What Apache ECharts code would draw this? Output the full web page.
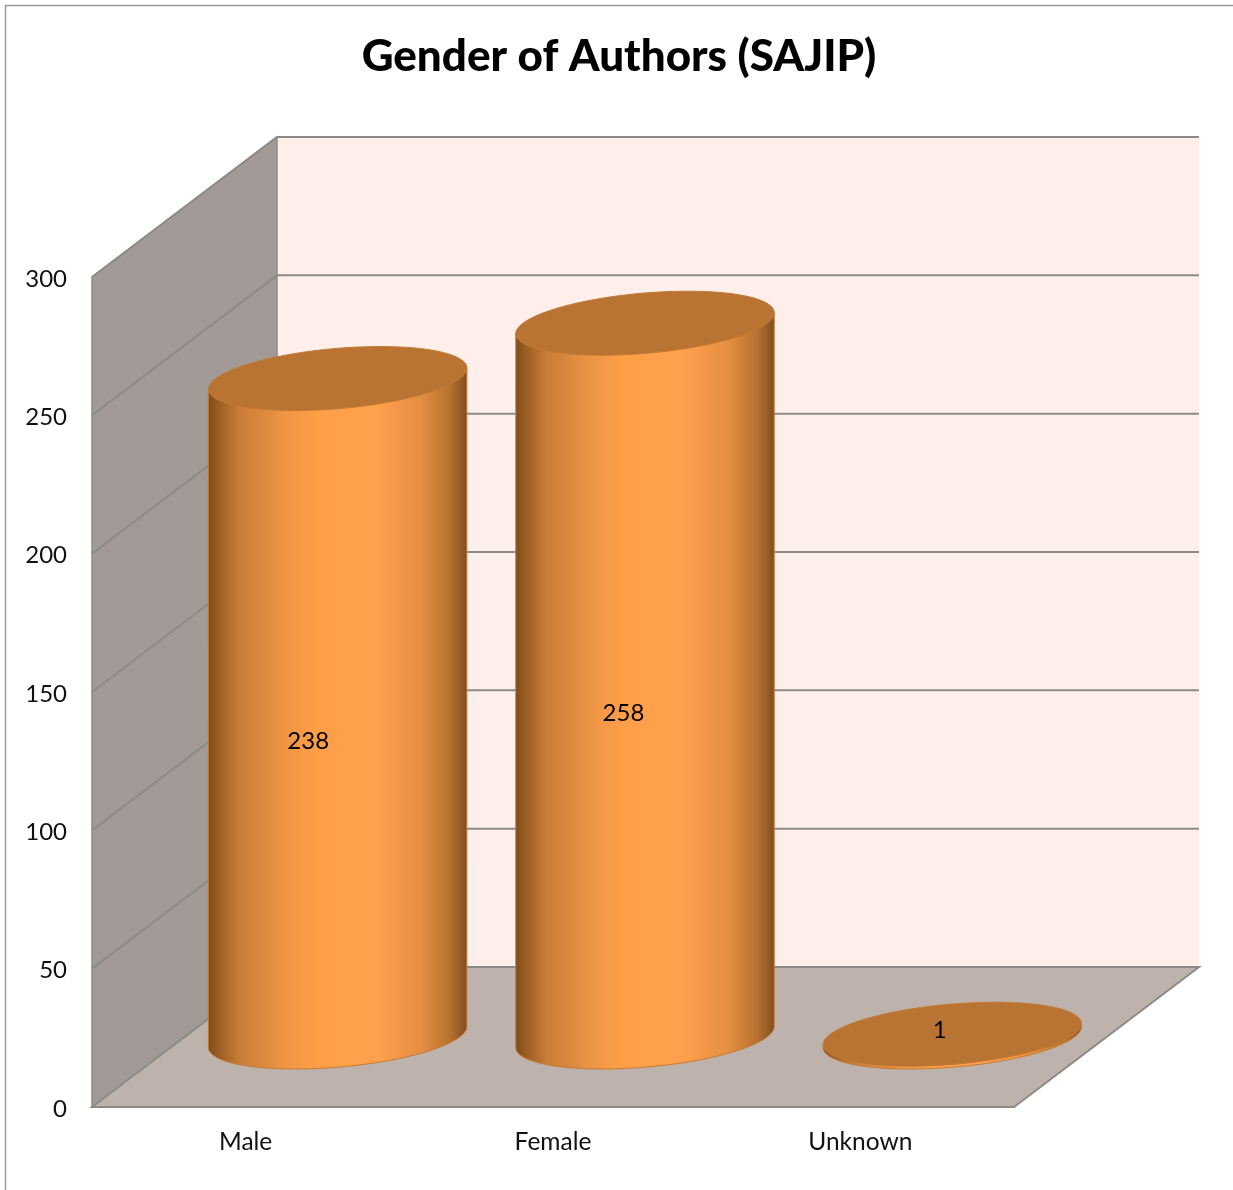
<!DOCTYPE html>
<html><head><meta charset="utf-8">
<style>html,body{margin:0;padding:0;background:#fff}#c{width:1233px;height:1190px}</style>
<script src="https://cdn.jsdelivr.net/npm/echarts@6/dist/echarts.min.js"></script>
</head><body><div id="c"></div>
<script>
const titleText = 'Gender of Authors (SAJIP)';
const categories = ['Male', 'Female', 'Unknown'];
const values = [238, 258, 1];
const yTicks = [0, 50, 100, 150, 200, 250, 300];

const FONT = 'Lato';
const DEPTH_X = 185, DEPTH_Y = 140;
const labelShift = [[-30, 33], [-22, 33], [-13, -5]];
const TOP_COLOR = '#B97333', GRID = '#8C8C86';

function ellipsePts(cx, cy, from, to, n) {
  const A = 122, B = 42.6, C = 32, pts = [];
  for (let i = 0; i <= n; i++) {
    const t = from + (to - from) * i / n;
    pts.push([cx + Math.cos(t) * A + Math.sin(t) * B, cy - Math.sin(t) * C]);
  }
  return pts;
}
const T0 = Math.atan2(42.6, 122);

const chart = echarts.init(document.getElementById('c'), null, {renderer: 'canvas'});
chart.setOption({
  animation: false,
  backgroundColor: '#fff',
  title: {text: titleText, left: 614, top: 30, textAlign: 'center',
    textStyle: {fontFamily: FONT, fontSize: 44, fontWeight: 900, color: '#000'}},
  grid: {left: 92, right: 219, top: 277, bottom: 83},
  xAxis: {type: 'category', data: categories,
    axisLine: {show: false}, axisTick: {show: false},
    axisLabel: {fontFamily: FONT, fontSize: 24.5, color: '#111', margin: 23}},
  yAxis: {type: 'value', min: 0, max: 300, interval: 50,
    axisLine: {show: false}, axisTick: {show: false}, splitLine: {show: false},
    axisLabel: {margin: 25, formatter: '{n|{value}}',
      rich: {n: {fontFamily: FONT, fontSize: 24, color: '#111', padding: [4, 0, 0, 0]}}}},
  graphic: [
    {type: 'polyline', silent: true, z: 0,
     shape: {points: [[1233, 5.5], [5.5, 5.5], [5.5, 1190]]},
     style: {stroke: '#9A9A9A', lineWidth: 1.5, fill: null}}
  ],
  series: [
    {type: 'custom', coordinateSystem: 'cartesian2d', z: 1, silent: true, data: [0],
     renderItem(params, api) {
       const g = params.coordSys, x0 = g.x, x1 = g.x + g.width;
       const yB = api.coord([0, 0])[1], yT = api.coord([0, yTicks[yTicks.length - 1]])[1];
       const dx = DEPTH_X, dy = DEPTH_Y;
       return {type: 'group', children: [
         {type: 'rect', shape: {x: x0 + dx, y: yT - dy, width: g.width, height: yB - yT},
          style: {fill: '#FFEFEA'}},
         {type: 'polygon', shape: {points: [[x0, yT], [x0 + dx, yT - dy], [x0 + dx, yB - dy], [x0, yB]]},
          style: {fill: '#A29A96', stroke: GRID, lineWidth: 1.5}},
         {type: 'polygon', shape: {points: [[x0, yB], [x0 + dx, yB - dy], [x1 + dx, yB - dy], [x1, yB]]},
          style: {fill: '#BEB2AD', stroke: GRID, lineWidth: 2}}
       ]};
     }},
    {type: 'custom', coordinateSystem: 'cartesian2d', z: 2, silent: true,
     data: yTicks.map(v => [0, v]),
     encode: {x: -1, y: 1},
     renderItem(params, api) {
       const v = api.value(1);
       if (v === 0) return null;
       const g = params.coordSys, y = api.coord([0, v])[1];
       const pts = [[g.x, y], [g.x + DEPTH_X, y - DEPTH_Y], [g.x + g.width + DEPTH_X, y - DEPTH_Y]];
       return {type: 'polyline', shape: {points: pts}, style: {stroke: GRID, lineWidth: 2, fill: null}};
     }},
    {type: 'custom', coordinateSystem: 'cartesian2d', z: 3, silent: true,
     data: values.map((v, i) => [i, v]),
     encode: {x: 0, y: 1},
     renderItem(params, api) {
       const i = api.value(0), v = api.value(1);
       const base = api.coord([i, 0]), top = api.coord([i, v]);
       const cx = base[0] + DEPTH_X / 2 - 0.5, cyB = base[1] - DEPTH_Y / 2, cyT = top[1] - DEPTH_Y / 2;
       const botArc = ellipsePts(cx, cyB, T0, T0 - Math.PI, 60);
       const sideRight = [cx + 129.2, cyT + (botArc[0][1] - cyB)];
       const sideLeft = [cx - 129.2, cyT + (botArc[60][1] - cyB)];
       const body = [sideRight].concat(botArc, [sideLeft]);
       const topE = ellipsePts(cx, cyT, 0, Math.PI * 2, 120);
       const grad = new echarts.graphic.LinearGradient(0, 0, 1, 0, [
         {offset: 0, color: '#7A4A20'}, {offset: 0.03, color: '#95591F'}, {offset: 0.12, color: '#C97C38'},
         {offset: 0.3, color: '#EE9645'}, {offset: 0.42, color: '#FF9F48'}, {offset: 0.65, color: '#FFA04D'},
         {offset: 0.82, color: '#E48F42'}, {offset: 0.93, color: '#B8722F'}, {offset: 1, color: '#7F4E22'}
       ]);
       return {type: 'group', children: [
         {type: 'polygon', shape: {points: body}, style: {fill: grad, stroke: '#C67A30', lineWidth: 1}},
         {type: 'polygon', shape: {points: topE}, style: {fill: TOP_COLOR, stroke: '#C37A36', lineWidth: 1}}
       ]};
     }},
    {type: 'custom', coordinateSystem: 'cartesian2d', z: 4, silent: true,
     data: values.map((v, i) => [i, v]),
     encode: {x: 0, y: 1},
     renderItem(params, api) {
       const i = api.value(0), v = api.value(1);
       const base = api.coord([i, 0]), top = api.coord([i, v]);
       const cx = base[0] + DEPTH_X / 2, cy = (base[1] + top[1]) / 2 - DEPTH_Y / 2;
       return {type: 'text', style: {text: String(v), x: cx + labelShift[i][0], y: cy + labelShift[i][1],
         align: 'center', verticalAlign: 'middle', fontFamily: FONT, fontSize: 24, fill: '#000'}};
     }}
  ]
});
</script></body></html>
